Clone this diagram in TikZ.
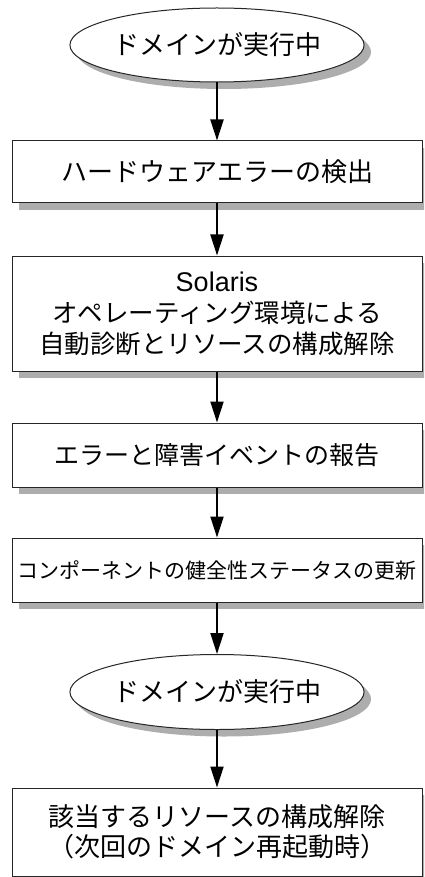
\documentclass[tikz,border=0pt]{standalone}
\usepackage{fontspec}
\setmainfont{Noto Sans CJK JP}
\newfontfamily\lat{Liberation Sans}
\usetikzlibrary{arrows.meta,shapes.geometric,shadows}
\tikzset{
  base/.style={draw=black!85, line width=1pt, fill=white, inner sep=0pt, align=center,
    font=\fontsize{26}{31}\selectfont,
    drop shadow={shadow xshift=7pt, shadow yshift=-7pt, fill=black!32, opacity=1}},
  stepbox/.style={base, rectangle, minimum width=410pt},
  oval/.style={base, ellipse, drop shadow={shadow xshift=5pt, shadow yshift=-5pt, fill=black!32, opacity=1}},
  flow/.style={line width=2pt, -{Triangle[length=21pt,width=13pt]}}
}
\begin{document}
\begin{tikzpicture}[x=1pt,y=-1pt]
\useasboundingbox (0,0) rectangle (424,877);
\fill[white] (0,0) rectangle (424,877);
\begin{scope}
\clip (0,0) rectangle (424,877);
\node[oval, minimum width=244pt, minimum height=74pt] (e1) at (217,45) {ドメインが実行中};
\node[stepbox, minimum height=62pt] (b1) at (217,172) {ハードウェアエラーの検出};
\node[stepbox, minimum height=115pt, font=\fontsize{25.5}{31}\selectfont] (b2) at (217,313.5) {{\lat\fontsize{27}{31}\selectfont Solaris}\\オペレーティング環境による\\自動診断とリソースの構成解除};
\node[stepbox, minimum height=64pt, font=\fontsize{25}{31}\selectfont] (b3) at (217,455) {エラーと障害イベントの報告};
\node[stepbox, minimum height=64pt, font=\fontsize{21}{26}\selectfont] (b4) at (217,570) {コンポーネントの健全性ステータスの更新};
\node[oval, minimum width=242pt, minimum height=75pt] (e2) at (217,692) {ドメインが実行中};
\node[stepbox, minimum height=88pt, font=\fontsize{26}{30}\selectfont] (b5) at (217,832) {該当するリソースの構成解除\\（次回のドメイン再起動時）};
\end{scope}
\draw[flow] (e1) -- (b1);
\draw[flow] (b1) -- (b2);
\draw[flow] (b2) -- (b3);
\draw[flow] (b3) -- (b4);
\draw[flow] (b4) -- (e2);
\draw[flow] (e2) -- (b5);
\end{tikzpicture}
\end{document}
